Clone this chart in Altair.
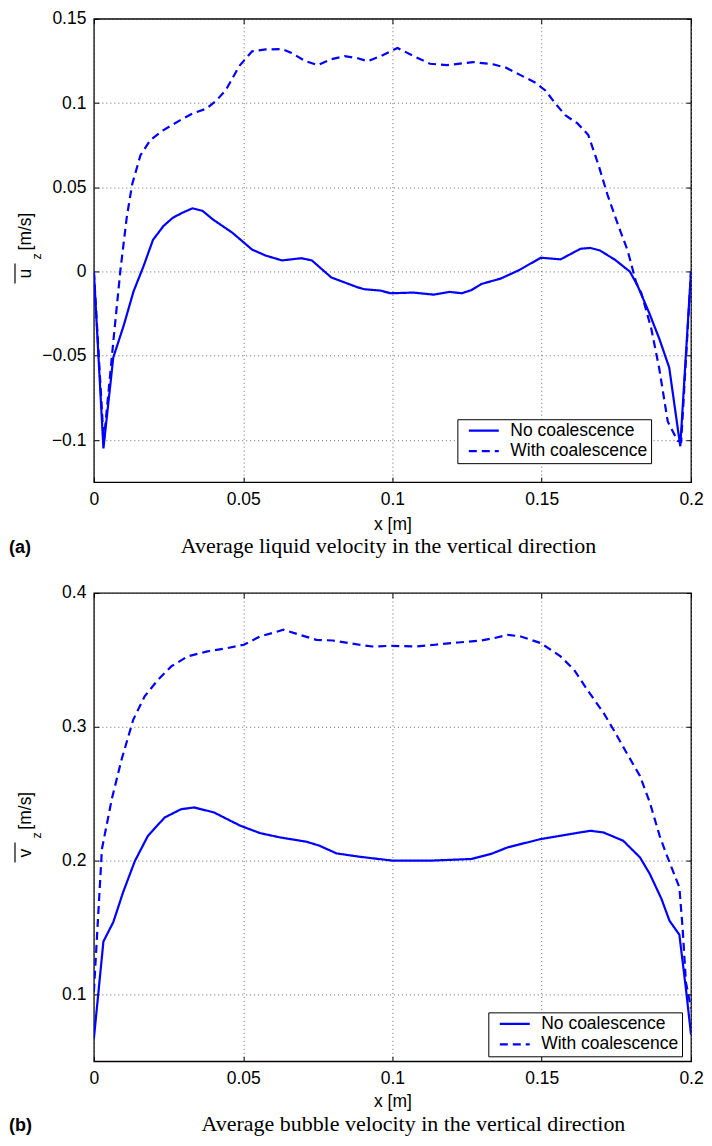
import altair as alt
import pandas as pd

# ---------------- data ----------------
series_names = ["No coalescence", "With coalescence"]

# panel (a): average liquid velocity u_z [m/s]
a_no_x = [0, 0.0032, 0.0065, 0.010, 0.0133, 0.0166, 0.0198, 0.0233, 0.0265, 0.0298,
          0.033, 0.0364, 0.0398, 0.0464, 0.053, 0.0575, 0.063, 0.0695, 0.073, 0.0795,
          0.084, 0.0884, 0.0906, 0.096, 0.0994, 0.107, 0.1138, 0.1192, 0.1232, 0.1265,
          0.1298, 0.1364, 0.1424, 0.1497, 0.1563, 0.163, 0.1662, 0.1695, 0.1745, 0.1795,
          0.182, 0.186, 0.1894, 0.1927, 0.1964, 0.2]
a_no_y = [0, -0.105, -0.051, -0.032, -0.0117, 0.003, 0.0188, 0.027, 0.032, 0.035,
          0.0375, 0.036, 0.031, 0.023, 0.013, 0.0095, 0.0066, 0.0079, 0.0066, -0.0035,
          -0.0065, -0.0094, -0.0105, -0.0113, -0.0129, -0.0125, -0.0137, -0.0121, -0.0129, -0.011,
          -0.0074, -0.0041, 0.0008, 0.0082, 0.0072, 0.0135, 0.014, 0.0125, 0.007, 0.0,
          -0.008, -0.0246, -0.040, -0.057, -0.1037, 0]
a_with_x = [0, 0.0033, 0.0066, 0.0089, 0.011, 0.0128, 0.0156, 0.0189, 0.0232, 0.0288,
            0.0331, 0.0377, 0.041, 0.0443, 0.0487, 0.053, 0.0576, 0.063, 0.0662, 0.0708,
            0.075, 0.0795, 0.084, 0.0884, 0.0917, 0.096, 0.1017, 0.1072, 0.1126, 0.1182,
            0.1237, 0.127, 0.1337, 0.138, 0.1424, 0.148, 0.1513, 0.1546, 0.158, 0.162,
            0.1656, 0.169, 0.172, 0.1755, 0.1788, 0.1817, 0.1834, 0.1867, 0.1894, 0.1922,
            0.1955, 0.1967, 0.2]
a_with_y = [0, -0.101, -0.040, 0.001, 0.032, 0.0516, 0.069, 0.078, 0.0838, 0.0897,
            0.0938, 0.0967, 0.1014, 0.108, 0.122, 0.1307, 0.1318, 0.132, 0.1297, 0.1249,
            0.1225, 0.126, 0.1278, 0.1266, 0.1248, 0.1278, 0.1327, 0.1278, 0.1233, 0.1225,
            0.1236, 0.1243, 0.123, 0.121, 0.117, 0.112, 0.1073, 0.0996, 0.0926, 0.0879,
            0.081, 0.0633, 0.0457, 0.028, 0.0123, -0.007, -0.013, -0.034, -0.058, -0.089,
            -0.1005, -0.101, 0]

# panel (b): average bubble velocity v_z [m/s]
b_no_x = [0, 0.0032, 0.0065, 0.0098, 0.0137, 0.0181, 0.0237, 0.0292, 0.0336, 0.0402,
          0.0491, 0.0557, 0.0624, 0.0712, 0.0756, 0.0812, 0.0889, 0.0999, 0.1132, 0.1265,
          0.1331, 0.1386, 0.1497, 0.1574, 0.1663, 0.1707, 0.1773, 0.1829, 0.1862, 0.1901,
          0.1928, 0.1961, 0.1983, 0.2]
b_no_y = [0.067, 0.1396, 0.154, 0.1764, 0.1995, 0.2185, 0.2322, 0.2384, 0.2397, 0.236,
          0.226, 0.2205, 0.2173, 0.2141, 0.2111, 0.2054, 0.2029, 0.2, 0.2, 0.2012,
          0.205, 0.2099, 0.2161, 0.219, 0.2223, 0.221, 0.2148, 0.2024, 0.19, 0.1714,
          0.155, 0.1446, 0.104, 0.07]
b_with_x = [0, 0.0027, 0.006, 0.0093, 0.0132, 0.017, 0.0215, 0.0259, 0.0314, 0.038,
            0.0447, 0.0502, 0.0557, 0.0635, 0.069, 0.0745, 0.08, 0.0889, 0.0933, 0.0999,
            0.1077, 0.1143, 0.122, 0.1298, 0.1342, 0.1386, 0.143, 0.1497, 0.1563, 0.1608,
            0.1652, 0.1707, 0.174, 0.1784, 0.1829, 0.1862, 0.1895, 0.1917, 0.1961, 0.1972,
            0.1983, 0.2]
b_with_y = [0.102, 0.2087, 0.246, 0.2757, 0.3054, 0.3228, 0.3352, 0.3451, 0.3526, 0.3563,
            0.3588, 0.3613, 0.3675, 0.3725, 0.3687, 0.365, 0.3645, 0.3613, 0.36, 0.3605,
            0.36, 0.3613, 0.363, 0.3645, 0.3663, 0.3687, 0.3675, 0.3625, 0.3526, 0.3427,
            0.3278, 0.3104, 0.298, 0.2806, 0.2632, 0.2434, 0.2185, 0.205, 0.18, 0.149,
            0.109, 0.0895]

x_ticks = [0, 0.05, 0.1, 0.15, 0.2]
x_domain = [0, 0.2]
a_y_ticks = [-0.1, -0.05, 0, 0.05, 0.1, 0.15]
a_y_domain = [-0.125, 0.15]
b_y_ticks = [0.1, 0.2, 0.3, 0.4]
b_y_domain = [0.05, 0.4]

x_title = "x [m]"
y_symbols = ["u", "v"]
y_subscript = "z"
y_unit = "[m/s]"
panel_tags = ["(a)", "(b)"]
captions = ["Average liquid velocity in the vertical direction",
            "Average bubble velocity in the vertical direction"]

# ---------------- styling ----------------
SANS = "Liberation Sans"
SERIF = "Liberation Serif"
BLUE = "#0000ff"
W = 598
FS = 17.5
NUM_FMT = ".2~f"


def one_row(text):
    return pd.DataFrame({"t": [text]})


def text_layer(text, x, y, size, font=SANS, weight="normal", align="left", angle=0):
    return alt.Chart(one_row(text)).mark_text(
        align=align, baseline="alphabetic", font=font, fontSize=size,
        fontWeight=weight, angle=angle, color="black"
    ).encode(x=alt.value(x), y=alt.value(y), text="t:N")


def panel(xs1, ys1, xs2, ys2, y_domain, y_ticks, symbol, tag, caption, h,
          legend_xy, caption_xy, tag_y, title_pad, ty):
    df = pd.DataFrame({
        "x": xs1 + xs2,
        "y": ys1 + ys2,
        "series": [series_names[0]] * len(xs1) + [series_names[1]] * len(xs2),
    })
    xs = alt.Scale(domain=x_domain, nice=False, zero=False)
    ys = alt.Scale(domain=y_domain, nice=False, zero=False)
    leg = alt.Legend(
        orient="none", legendX=legend_xy[0], legendY=legend_xy[1], title=None,
        strokeColor="black", fillColor="white", padding=3, symbolOffset=7,
        symbolType="stroke", symbolSize=900, symbolStrokeWidth=2.2,
        clipHeight=17, rowPadding=2.5, labelOffset=10, labelFont=SANS,
        labelFontSize=FS, labelColor="black", labelLimit=0,
    )
    lines = alt.Chart(df).mark_line(strokeWidth=2.2, clip=True).encode(
        x=alt.X("x:Q", scale=xs, axis=alt.Axis(
            orient="bottom", values=x_ticks, format=NUM_FMT, offset=-5, tickSize=5,
            domain=False, grid=True, labelPadding=8, labelFlush=False,
            title=x_title, titlePadding=title_pad)),
        y=alt.Y("y:Q", scale=ys, axis=alt.Axis(
            orient="left", values=y_ticks, format=NUM_FMT, offset=-5, tickSize=5,
            domain=False, grid=True, labelPadding=8, labelFlush=False, title=None)),
        color=alt.Color("series:N", scale=alt.Scale(domain=series_names, range=[BLUE, BLUE]),
                        legend=leg),
        strokeDash=alt.StrokeDash("series:N", scale=alt.Scale(domain=series_names,
                                                              range=[[1, 0], [8, 5]]),
                                  legend=leg),
    )
    # inward ticks along the top and right edges: bottom/left axes pushed across the plot
    frame_ticks = alt.Chart(df).mark_line(opacity=0).encode(
        x=alt.X("x:Q", scale=xs, axis=alt.Axis(
            orient="bottom", values=x_ticks, offset=-h, tickSize=5, labels=False,
            domain=False, grid=False, title=None, minExtent=0)),
        y=alt.Y("y:Q", scale=ys, axis=alt.Axis(
            orient="left", values=y_ticks, offset=-W, tickSize=5, labels=False,
            domain=False, grid=False, title=None, minExtent=0)),
    )
    overline = alt.Chart(one_row("")).mark_rule(color="black", strokeWidth=1.2).encode(
        x=alt.value(-79), y=alt.value(250 + ty), y2=alt.value(270 + ty))
    layers = [
        lines,
        frame_ticks,
        text_layer(symbol, -63, 265 + ty, FS, angle=270),
        text_layer(y_subscript, -53, 246 + ty, 12.5, angle=270),
        text_layer(y_unit, -63, 237 + ty, FS, angle=270),
        overline,
        text_layer(tag, -85, tag_y, 18, weight="bold"),
        text_layer(caption, caption_xy[0], caption_xy[1], 22, font=SERIF, align="center"),
    ]
    return alt.layer(*layers).resolve_axis(x="independent", y="independent").properties(
        width=W, height=h)


chart_a = panel(a_no_x, a_no_y, a_with_x, a_with_y, a_y_domain, a_y_ticks,
                y_symbols[0], panel_tags[0], captions[0], 464,
                legend_xy=(364, 401), caption_xy=(295, 535), tag_y=535, title_pad=8, ty=-5)
chart_b = panel(b_no_x, b_no_y, b_with_x, b_with_y, b_y_domain, b_y_ticks,
                y_symbols[1], panel_tags[1], captions[1], 469,
                legend_xy=(395, 420), caption_xy=(320, 539), tag_y=539, title_pad=6, ty=0)

chart = alt.vconcat(chart_a, chart_b, spacing=111, bounds="flush").resolve_legend(
    color="independent", strokeDash="independent"
).properties(
    padding={"top": 0, "left": 0, "right": 0, "bottom": 0}
).configure_axis(
    labelFont=SANS, labelFontSize=FS, labelColor="black",
    titleFont=SANS, titleFontSize=FS, titleFontWeight="normal", titleColor="black",
    tickColor="black", tickWidth=1, gridColor="#666666", gridDash=[1, 3], gridWidth=1,
).configure_view(stroke="black", strokeWidth=1.3)

chart.save("out.html", embed_options={"renderer": "svg", "actions": False})
